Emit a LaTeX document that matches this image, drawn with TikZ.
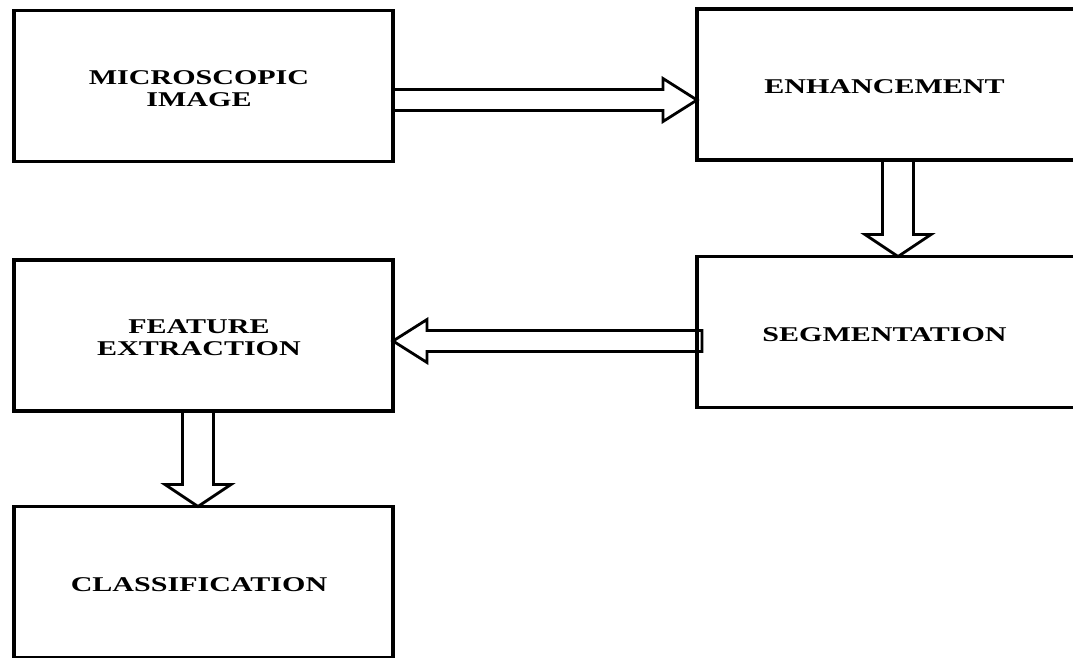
\documentclass[tikz,border=0pt]{standalone}
\usepackage{fontspec}
\setmainfont{Liberation Serif}
\usetikzlibrary{calc}

\newcommand{\stagetext}[1]{\raisebox{-10pt}[0pt][0pt]{\scalebox{1.43}[1]{\begin{tabular}{@{}c@{}}#1\end{tabular}}}\rule{9pt}{0pt}}

\begin{document}
\begin{tikzpicture}[x=1pt, y=-1pt,
  stage/.style={draw, line width=3.4pt, outer sep=0pt, inner sep=0pt, minimum width=379pt, minimum height=151pt, font=\fontsize{21}{22}\selectfont\bfseries},
  wide/.style={minimum width=384pt},
  hollow/.style={draw, line width=2.8pt, line join=miter}]
\useasboundingbox (0,0) rectangle (1073,657);
\clip (0,0) rectangle (1073,657);

\node[stage] (mic) at (203.5,86) {\stagetext{MICROSCOPIC\\IMAGE}};
\node[stage, wide] (enh) at (889,84.5) {\stagetext{ENHANCEMENT}};
\node[stage, wide] (seg) at (889,332) {\stagetext{SEGMENTATION}};
\node[stage] (feat) at (203.5,335.5) {\stagetext{FEATURE\\EXTRACTION}};
\node[stage] (cls) at (203.5,582) {\stagetext{CLASSIFICATION}};

% image -> enhancement
\coordinate (a1s) at ($(mic.east)+(0,14)$);
\coordinate (a1e) at (enh.west |- a1s);
\draw[hollow] ($(a1s)+(0,-10.5)$) -- ($(a1e)+(-34,-10.5)$) -- ($(a1e)+(-34,-21.5)$) -- (a1e) -- ($(a1e)+(-34,21.5)$) -- ($(a1e)+(-34,10.5)$) -- ($(a1s)+(0,10.5)$) -- cycle;

% enhancement -> segmentation
\coordinate (a2s) at ($(enh.south)+(9,0)$);
\coordinate (a2e) at (a2s |- seg.north);
\draw[hollow] ($(a2s)+(-15.5,0)$) -- ($(a2e)+(-15.5,-22)$) -- ($(a2e)+(-33,-22)$) -- (a2e) -- ($(a2e)+(33,-22)$) -- ($(a2e)+(15.5,-22)$) -- ($(a2s)+(15.5,0)$) -- cycle;

% segmentation -> feature extraction
\coordinate (a3s) at ($(seg.west)+(5,9)$);
\coordinate (a3e) at (feat.east |- a3s);
\draw[hollow] ($(a3s)+(0,-10.5)$) -- ($(a3e)+(34,-10.5)$) -- ($(a3e)+(34,-21.5)$) -- (a3e) -- ($(a3e)+(34,21.5)$) -- ($(a3e)+(34,10.5)$) -- ($(a3s)+(0,10.5)$) -- cycle;

% feature extraction -> classification
\coordinate (a4s) at ($(feat.south)+(-5.5,0)$);
\coordinate (a4e) at (a4s |- cls.north);
\draw[hollow] ($(a4s)+(-15.5,0)$) -- ($(a4e)+(-15.5,-22)$) -- ($(a4e)+(-33,-22)$) -- (a4e) -- ($(a4e)+(33,-22)$) -- ($(a4e)+(15.5,-22)$) -- ($(a4s)+(15.5,0)$) -- cycle;
\end{tikzpicture}
\end{document}
